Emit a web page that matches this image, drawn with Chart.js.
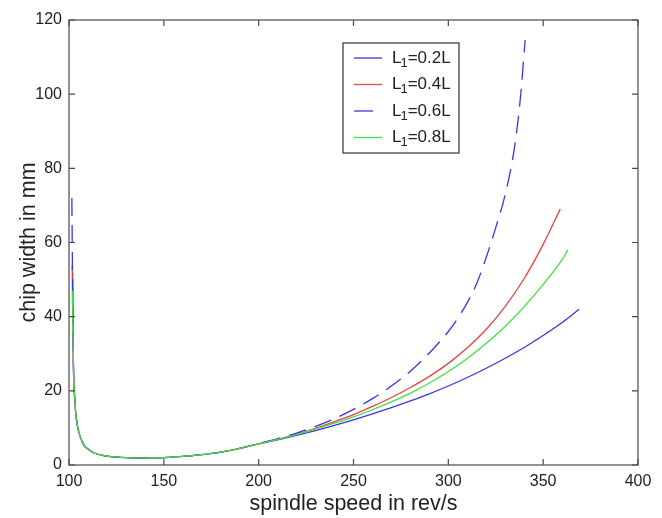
<!DOCTYPE html>
<html>
<head>
<meta charset="utf-8">
<script src="https://cdn.jsdelivr.net/npm/chart.js@4.4.1/dist/chart.umd.min.js"></script>
<style>
  html, body { margin: 0; padding: 0; background: #fff; }
  canvas { display: block; }
</style>
</head>
<body>
<canvas id="chipWidth" width="662" height="518"></canvas>
<script>
// L1 positions and line styles
var ratios = ['0.2L', '0.4L', '0.6L', '0.8L'];
var colors = ['rgba(55, 55, 225, 1)', 'rgba(235, 65, 65, 1)', 'rgba(55, 55, 225, 1)', 'rgba(65, 225, 65, 1)'];
var dashes = [[], [], [18, 9], []];

// steep branch just above 100 rev/s, where the curves start
var topSpeed = [101.9, 101.7, 101.5, 101.8];
var topWidth = [52, 54, 72, 47];

// falling branch shared by all four curves
var dropSpeed = [102.3, 103, 104, 106, 108, 110, 113, 116, 120, 130, 140, 150, 160, 170, 180, 190];
var dropWidth = [28, 18, 12, 7.5, 5.3, 4.3, 3.3, 2.8, 2.4, 2.0, 1.9, 2.0, 2.3, 2.8, 3.5, 4.5];

// rising branch, one pair per L1
var riseSpeed02 = [200, 210, 220, 230, 240, 250, 260, 270, 280, 290, 300, 310, 320, 330, 340, 350, 360, 369];
var riseWidth02 = [5.7, 6.8, 8.0, 9.3, 10.7, 12.2, 13.8, 15.5, 17.3, 19.2, 21.3, 23.6, 26.1, 28.8, 31.7, 34.9, 38.4, 42];

var riseSpeed04 = [200, 210, 220, 230, 240, 250, 260, 270, 280, 290, 300, 310, 320, 330, 340, 350, 359];
var riseWidth04 = [5.7, 6.9, 8.3, 9.9, 11.7, 13.6, 15.8, 18.2, 20.9, 23.9, 27.4, 31.6, 36.6, 42.8, 50.3, 59.5, 69];

var riseSpeed06 = [200, 210, 220, 230, 240, 250, 260, 270, 280, 290, 300, 305, 310, 315, 320, 325, 330, 335, 338, 340.5];
var riseWidth06 = [5.8, 7.1, 8.6, 10.4, 12.5, 15.0, 17.9, 21.3, 25.3, 30.2, 36.0, 39.6, 43.8, 49, 56, 64, 73, 86, 99, 114.6];

var riseSpeed08 = [200, 210, 220, 230, 240, 250, 260, 270, 280, 290, 300, 310, 320, 330, 340, 350, 360, 363];
var riseWidth08 = [5.7, 6.9, 8.2, 9.7, 11.3, 13.0, 14.9, 17.0, 19.4, 22.1, 25.2, 28.7, 32.8, 37.4, 42.7, 48.7, 55.4, 58];

var riseSpeeds = [riseSpeed02, riseSpeed04, riseSpeed06, riseSpeed08];
var riseWidths = [riseWidth02, riseWidth04, riseWidth06, riseWidth08];

function points(i) {
    var xs = [topSpeed[i]].concat(dropSpeed, riseSpeeds[i]);
    var ys = [topWidth[i]].concat(dropWidth, riseWidths[i]);
    return xs.map(function (x, k) { return { x: x, y: ys[k] }; });
}

var datasets = ratios.map(function (r, i) {
    return {
        label: 'L1=' + r,
        data: points(i),
        showLine: true,
        borderColor: colors[i],
        backgroundColor: colors[i],
        borderDash: dashes[i],
        borderWidth: 1.3,
        pointRadius: 0,
        cubicInterpolationMode: 'monotone',
        order: ratios.length - i   // later curves are drawn on top
    };
});

// box round the plot with inward ticks on every side
var boxAxes = {
    id: 'boxAxes',
    afterDraw: function (chart) {
        var ctx = chart.ctx, a = chart.chartArea;
        var xs = chart.scales.x, ys = chart.scales.y;
        ctx.save();
        ctx.strokeStyle = '#4a4a4a';
        ctx.lineWidth = 1.2;
        ctx.strokeRect(a.left, a.top, a.right - a.left, a.bottom - a.top);
        ctx.beginPath();
        xs.ticks.forEach(function (t) {
            var px = xs.getPixelForValue(t.value);
            ctx.moveTo(px, a.bottom); ctx.lineTo(px, a.bottom - 6);
            ctx.moveTo(px, a.top); ctx.lineTo(px, a.top + 6);
        });
        ys.ticks.forEach(function (t) {
            var py = ys.getPixelForValue(t.value);
            ctx.moveTo(a.left, py); ctx.lineTo(a.left + 6, py);
            ctx.moveTo(a.right, py); ctx.lineTo(a.right - 6, py);
        });
        ctx.stroke();
        ctx.restore();
    }
};

// legend inside the plot, with a subscript on L1
var boxLegend = {
    id: 'boxLegend',
    afterDraw: function (chart) {
        var ctx = chart.ctx, a = chart.chartArea;
        var x0 = a.left + 274, y0 = a.top + 23, w = 116, h = 110, row = 26.5;
        ctx.save();
        ctx.fillStyle = '#fff';
        ctx.fillRect(x0, y0, w, h);
        ctx.strokeStyle = '#333';
        ctx.lineWidth = 1.2;
        ctx.strokeRect(x0, y0, w, h);
        chart.data.datasets.forEach(function (ds, i) {
            var y = y0 + 15 + i * row;
            // a dashed entry shows just one dash
            var len = ds.borderDash.length ? ds.borderDash[0] + 1 : 28;
            ctx.strokeStyle = ds.borderColor;
            ctx.lineWidth = 1.3;
            ctx.beginPath();
            ctx.moveTo(x0 + 11, y); ctx.lineTo(x0 + 11 + len, y);
            ctx.stroke();
            ctx.fillStyle = '#222';
            ctx.textBaseline = 'middle';
            ctx.font = '17px "Liberation Sans", Arial, sans-serif';
            var tx = x0 + 49;
            ctx.fillText('L', tx, y);
            tx += ctx.measureText('L').width;
            ctx.font = '13px "Liberation Sans", Arial, sans-serif';
            ctx.fillText('1', tx - 1, y + 5);
            tx += ctx.measureText('1').width - 1;
            ctx.font = '17px "Liberation Sans", Arial, sans-serif';
            ctx.fillText('=' + ratios[i], tx, y);
        });
        ctx.restore();
    }
};

var ctx = document.getElementById('chipWidth').getContext('2d');
var myChart = new Chart(ctx, {
    type: 'scatter',
    data: { datasets: datasets },
    options: {
        responsive: false,
        animation: false,
        layout: { padding: { top: 20, right: 24, left: 0, bottom: 0 } },
        plugins: {
            legend: { display: false },
            tooltip: { enabled: false }
        },
        scales: {
            x: {
                type: 'linear',
                min: 100,
                max: 400,
                grid: { display: false, drawTicks: false, tickLength: 0 },
                border: { display: false },
                ticks: {
                    stepSize: 50,
                    padding: 7,
                    color: '#222',
                    font: { family: '"Liberation Sans", Arial, sans-serif', size: 16 }
                },
                title: {
                    display: true,
                    text: 'spindle speed in rev/s',
                    color: '#222',
                    padding: { bottom: 1 },
                    font: { family: '"Liberation Sans", Arial, sans-serif', size: 21.5 }
                },
                afterFit: function (scale) { scale.height = 53; }
            },
            y: {
                min: 0,
                max: 120,
                grid: { display: false, drawTicks: false, tickLength: 0 },
                border: { display: false },
                ticks: {
                    stepSize: 20,
                    padding: 7,
                    color: '#222',
                    font: { family: '"Liberation Sans", Arial, sans-serif', size: 16 }
                },
                title: {
                    display: true,
                    text: 'chip width in mm',
                    color: '#222',
                    padding: { top: 16 },
                    font: { family: '"Liberation Sans", Arial, sans-serif', size: 21.5 }
                },
                afterFit: function (scale) { scale.width = 69; }
            }
        }
    },
    plugins: [boxAxes, boxLegend]
});
</script>
</body>
</html>
